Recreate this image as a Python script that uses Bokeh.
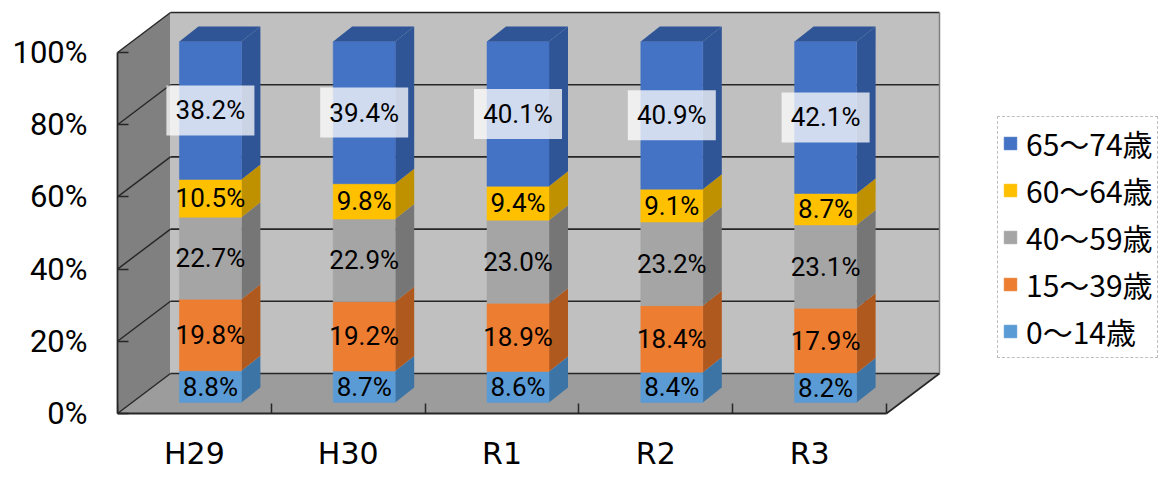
from bokeh.plotting import figure
from bokeh.models import Range1d, FixedTicker, PrintfTickFormatter, Legend, LegendItem
from bokeh.core.properties import value
from bokeh.embed import file_html
from bokeh.resources import INLINE

# ---------------- data ----------------
categories = ["H29", "H30", "R1", "R2", "R3"]
age_0_14 = [8.8, 8.7, 8.6, 8.4, 8.2]
age_15_39 = [19.8, 19.2, 18.9, 18.4, 17.9]
age_40_59 = [22.7, 22.9, 23.0, 23.2, 23.1]
age_60_64 = [10.5, 9.8, 9.4, 9.1, 8.7]
age_65_74 = [38.2, 39.4, 40.1, 40.9, 42.1]
series_names = ["0～14歳", "15～39歳", "40～59歳", "60～64歳", "65～74歳"]
y_ticks = [0, 20, 40, 60, 80, 100]

# ---------------- styles ----------------
front_colors = ["#5B9BD5", "#ED7D31", "#A5A5A5", "#FFC000", "#4472C4"]
side_colors = ["#3D74A6", "#B0591F", "#767676", "#BF9000", "#2F5597"]
top_color = "#2F5597"
NUM_FONT = "Roboto"
CJK = "Noto Sans CJK JP"

# ---------------- geometry (pixels -> data units) ----------------
W, H = 1164, 477
LEFT = 117          # frame left edge (front-left wall edge)
AXIS_Y = 413        # pixel row of the 0% front edge
PX_X = 153.8        # px per category
PX_Y = 3.61         # px per percent
n = len(categories)
x_end = (W - LEFT) / PX_X
y_start = -(H - AXIS_Y) / PX_Y
y_end = y_start + H / PX_Y

DX, DY = 53 / PX_X, 40 / PX_Y        # wall depth
BX, BY = 16 / PX_X, 11 / PX_Y        # bar front offset inside depth
BDX, BDY = 19 / PX_X, 15 / PX_Y      # bar depth
BW = 62 / PX_X                        # bar width

p = figure(width=W, height=H, output_backend="svg", toolbar_location=None,
           x_range=Range1d(0, x_end), y_range=Range1d(y_start, y_end),
           min_border_left=LEFT, min_border_right=0, min_border_top=0, min_border_bottom=0)
p.outline_line_color = None
p.xgrid.visible = False
p.ygrid.visible = False
p.background_fill_color = "white"

# ---------------- walls & floor ----------------
p.patch([0, DX, DX, 0], [0, DY, 100 + DY, 100], fill_color="#808080", line_color=None)
p.quad(left=DX, right=n + DX, bottom=DY, top=100 + DY, fill_color="#C0C0C0", line_color=None)
p.patch([0, n, n + DX, DX], [0, 0, DY, DY], fill_color="#9C9C9C", line_color=None)

p.segment(x0=[DX] * len(y_ticks), y0=[v + DY for v in y_ticks],
          x1=[n + DX] * len(y_ticks), y1=[v + DY for v in y_ticks],
          line_color="#262626", line_width=1.6)
p.segment(x0=[0] * len(y_ticks), y0=y_ticks,
          x1=[DX] * len(y_ticks), y1=[v + DY for v in y_ticks],
          line_color="#262626", line_width=1.4)
p.segment(x0=[n + DX], y0=[DY], x1=[n + DX], y1=[100 + DY], line_color="#7F7F7F", line_width=1.5)
p.segment(x0=[n], y0=[0], x1=[n + DX], y1=[DY], line_color="#262626", line_width=1.6)

# ---------------- bars ----------------
series = [age_0_14, age_15_39, age_40_59, age_60_64, age_65_74]
xc = [i + 0.5 + BX for i in range(n)]
x0s = [x - BW / 2 for x in xc]
x1s = [x + BW / 2 for x in xc]
cum = [0.0] * n
front_renderers = []
mids = []
for s, vals in enumerate(series):
    bottoms = [c + BY for c in cum]
    tops = [c + v + BY for c, v in zip(cum, vals)]
    xs = [[x1, x1 + BDX, x1 + BDX, x1] for x1 in x1s]
    ys = [[b, b + BDY, t + BDY, t] for b, t in zip(bottoms, tops)]
    p.patches(xs, ys, fill_color=side_colors[s], line_color=None)
    r = p.vbar(x=xc, width=BW, bottom=bottoms, top=tops,
               fill_color=front_colors[s], line_color=front_colors[s], line_width=0.5)
    front_renderers.append(r)
    mids.append([(b + t) / 2 for b, t in zip(bottoms, tops)])
    cum = [c + v for c, v in zip(cum, vals)]

tops = [c + BY for c in cum]
xs = [[x0, x0 + BDX, x1 + BDX, x1] for x0, x1 in zip(x0s, x1s)]
ys = [[t, t + BDY, t + BDY, t] for t in tops]
p.patches(xs, ys, fill_color=top_color, line_color=None)

# ---------------- data labels ----------------
p.rect(x=xc, y=mids[4], width=88, height=50, width_units="screen", height_units="screen",
       fill_color="white", fill_alpha=0.75, line_color=None)
for s, vals in enumerate(series):
    p.text(x=xc, y=mids[s], text=[f"{v:.1f}%" for v in vals],
           text_font=value(NUM_FONT), text_font_size="26px", text_color="black",
           text_align="center", text_baseline="middle")

# ---------------- axes ----------------
xa = p.xaxis[0]
xa.fixed_location = 0
xa.bounds = (0, n)
xa.ticker = FixedTicker(ticks=[i + 0.5 for i in range(n)], minor_ticks=list(range(n + 1)))
xa.major_label_overrides = {i + 0.5: c for i, c in enumerate(categories)}
xa.major_tick_in = 0
xa.major_tick_out = 0
xa.minor_tick_in = 10
xa.minor_tick_out = 0
xa.minor_tick_line_color = "#262626"
xa.minor_tick_line_width = 1.5
xa.axis_line_color = "#262626"
xa.axis_line_width = 1.8
xa.major_label_text_font = "DejaVu Sans"
xa.major_label_text_font_size = "30px"
xa.major_label_text_color = "black"
xa.major_label_standoff = 22

ya = p.yaxis[0]
ya.bounds = (0, 100)
ya.ticker = FixedTicker(ticks=y_ticks)
ya.formatter = PrintfTickFormatter(format="%d%%")
ya.major_tick_in = 11
ya.major_tick_out = 0
ya.minor_tick_line_color = None
ya.major_tick_line_color = "#262626"
ya.major_tick_line_width = 1.5
ya.axis_line_color = "#262626"
ya.axis_line_width = 1.8
ya.major_label_text_font = NUM_FONT
ya.major_label_text_font_size = "31px"
ya.major_label_text_color = "black"
ya.major_label_standoff = 30

# ---------------- legend ----------------
items = [LegendItem(label=series_names[s], renderers=[front_renderers[s]]) for s in range(len(series) - 1, -1, -1)]
legend = Legend(items=items, location=(880, H - 358), orientation="vertical",
                label_text_font=CJK, label_text_font_size="30px", label_text_color="black",
                glyph_width=16, glyph_height=16, label_height=34, label_standoff=8,
                spacing=3, padding=4, margin=0,
                border_line_color="#7F7F7F", border_line_dash="2 2", border_line_width=1,
                background_fill_color="white", background_fill_alpha=1)
p.add_layout(legend)

open("out.html", "w").write(file_html(p, INLINE))
